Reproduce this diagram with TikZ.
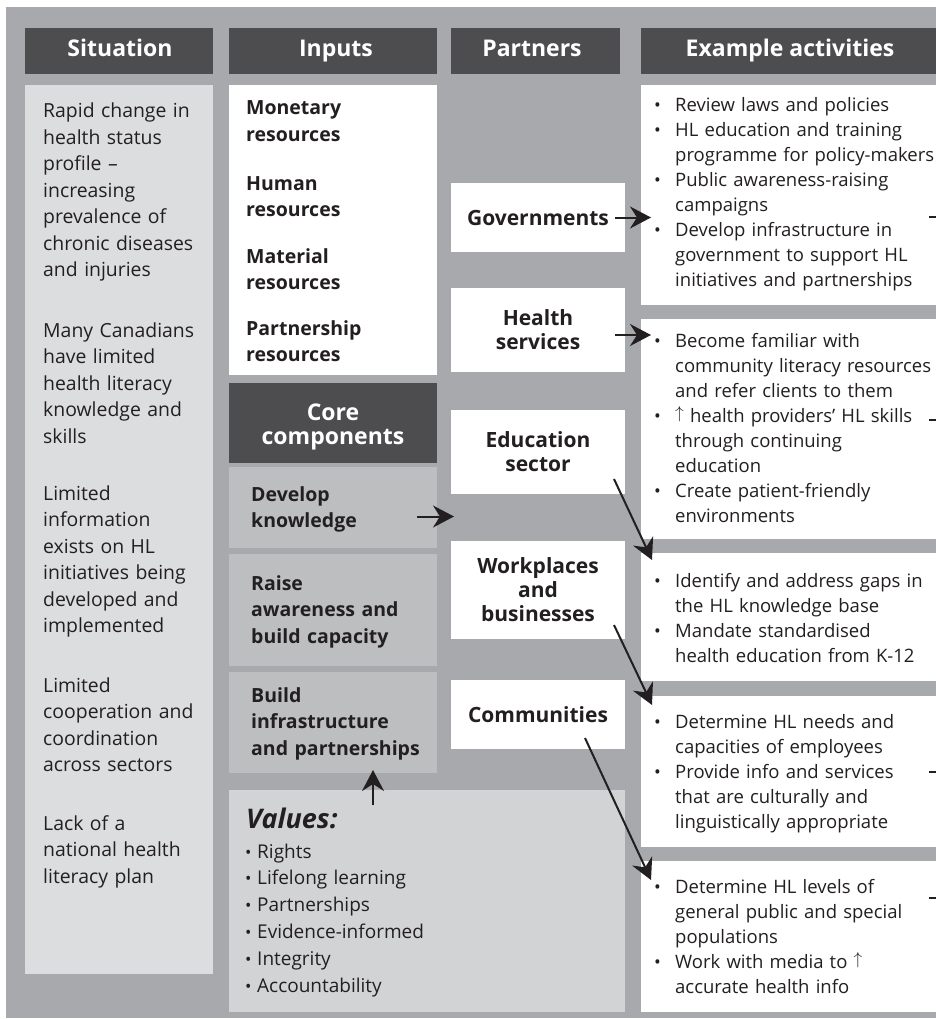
\documentclass[tikz,border=0pt]{standalone}
\usepackage{fontspec}
\setmainfont{Open Sans}
\usetikzlibrary{arrows.meta,calc}
\definecolor{bggray}{HTML}{A7A9AC}
\definecolor{darkhead}{HTML}{4D4D4F}
\definecolor{sitfill}{HTML}{DCDDDF}
\definecolor{corefill}{HTML}{BCBEC0}
\definecolor{valfill}{HTML}{D1D3D4}
\definecolor{ink}{HTML}{231F20}
\newcommand{\bul}{\makebox[20pt][l]{\hspace*{-1pt}\fontsize{18}{18}\selectfont •}}
\newcommand{\ind}{\hspace*{20pt}}
\newcommand{\vbul}{\makebox[12pt][l]{\fontsize{17}{17}\selectfont •}}
\newcommand{\upar}{\raisebox{0.2em}{$\uparrow$}}
\tikzset{
  box/.style={rectangle, inner sep=0pt, outer sep=0pt, draw=none},
  headbox/.style={box, fill=darkhead},
  whitebox/.style={box, fill=white},
  corebox/.style={box, fill=corefill},
  partbox/.style={box, fill=white, text=ink, align=center,
    font=\bfseries\fontsize{21}{24}\selectfont},
  headtxt/.style={inner sep=0pt, text=white, anchor=base,
    font=\bfseries\fontsize{23}{24}\selectfont},
  sittxt/.style={inner sep=0pt, text=ink, anchor=base west, align=left,
    text width=185pt, font=\fontsize{19.4}{26.5}\selectfont},
  inptxt/.style={inner sep=0pt, text=ink, anchor=base west, align=left,
    text width=185pt, font=\bfseries\fontsize{19.5}{26.5}\selectfont},
  acttxt/.style={inner sep=0pt, text=ink, anchor=base west, align=left,
    text width=300pt, font=\fontsize{18.5}{25}\selectfont},
  valtxt/.style={inner sep=0pt, text=ink, anchor=base west, align=left,
    text width=300pt, font=\fontsize{19}{26.8}\selectfont},
  arr/.style={draw=ink, line width=2pt, -{Stealth[length=21pt,width=22pt,inset=7pt]}},
  stub/.style={draw=ink, line width=2pt},
}
\begin{document}
\begin{tikzpicture}[x=1pt,y=-1pt]
\useasboundingbox (0,0) rectangle (936,1019);
\clip (0,0) rectangle (936,1019);
% background
\fill[bggray] (6,7) rectangle (940,1018);

% headers
\node[headbox, minimum width=188pt, minimum height=46pt] (sithead) at (119,51) {};
\node[headbox, minimum width=208pt, minimum height=46pt] (inphead) at (333,51) {};
\node[headbox, minimum width=169pt, minimum height=46pt] (parthead) at (535.5,51) {};
\node[headbox, minimum width=299pt, minimum height=46pt] (acthead) at (790.5,51) {};
\node[headtxt] (sitheadtxt) at (120,57) {Situation};
\node[headtxt] (inpheadtxt) at (336,57) {Inputs};
\node[headtxt] (partheadtxt) at (532,57) {Partners};
\node[headtxt] (actheadtxt) at (790,57) {Example activities};

% situation column
\node[box, fill=sitfill, minimum width=188pt, minimum height=889pt] (sitbody) at (119,529.5) {};
\node[sittxt] (sit1) at (43,118) {Rapid change in\\health status\\profile –\\increasing\\prevalence of\\chronic diseases\\and injuries};
\node[sittxt] (sit2) at (43,337) {Many Canadians\\have limited\\health literacy\\knowledge and\\skills};
\node[sittxt] (sit3) at (43,500) {Limited\\information\\exists on HL\\initiatives being\\developed and\\implemented};
\node[sittxt] (sit4) at (43,692) {Limited\\cooperation and\\coordination\\across sectors};
\node[sittxt] (sit5) at (43,830) {Lack of a\\national health\\literacy plan};

% inputs column
\node[whitebox, minimum width=208pt, minimum height=290pt] (inpbody) at (333,230) {};
\node[inptxt] (inp1) at (246,115) {Monetary\\resources};
\node[inptxt] (inp2) at (246,190) {Human\\resources};
\node[inptxt] (inp3) at (246,263) {Material\\resources};
\node[inptxt] (inp4) at (246,335) {Partnership\\resources};

% core components
\node[headbox, minimum width=208pt, minimum height=80pt] (corehead) at (333,423) {};
\node[headtxt, text width=208pt, align=center] (coreheadtxt) at (333,420) {Core\\components};
\node[corebox, minimum width=208pt, minimum height=81pt] (dev) at (333,507.5) {};
\node[corebox, minimum width=208pt, minimum height=112pt] (raise) at (333,610) {};
\node[corebox, minimum width=208pt, minimum height=101pt] (build) at (333,722.5) {};
\node[inptxt] (devtxt) at (251,501) {Develop\\knowledge};
\node[inptxt] (raisetxt) at (251,590) {Raise\\awareness and\\build capacity};
\node[inptxt] (buildtxt) at (251,702) {Build\\infrastructure\\and partnerships};

% values
\node[box, fill=valfill, minimum width=396pt, minimum height=222pt] (values) at (427,901) {};
\node[inner sep=0pt, text=ink, anchor=base west, font=\bfseries\itshape\fontsize{27}{30}\selectfont] (valtitle) at (246,828) {Values:};
\node[valtxt] (vallist) at (245,858) {\vbul Rights\\\vbul Lifelong learning\\\vbul Partnerships\\\vbul Evidence-informed\\\vbul Integrity\\\vbul Accountability};

% partners
\node[partbox, minimum width=174pt, minimum height=69pt] (gov) at (538,217.5) {Governments};
\node[partbox, minimum width=174pt, minimum height=84pt] (health) at (538,330) {Health\\services};
\node[partbox, minimum width=174pt, minimum height=84pt] (edu) at (538,452) {Education\\sector};
\node[partbox, minimum width=174pt, minimum height=98pt] (work) at (538,590) {Workplaces\\and\\businesses};
\node[partbox, minimum width=174pt, minimum height=69pt] (comm) at (538,714.5) {Communities};

% activities
\node[whitebox, minimum width=299pt, minimum height=220pt] (act1) at (790.5,195) {};
\node[whitebox, minimum width=299pt, minimum height=220pt] (act2) at (790.5,429) {};
\node[whitebox, minimum width=299pt, minimum height=128pt] (act3) at (790.5,617) {};
\node[whitebox, minimum width=299pt, minimum height=151pt] (act4) at (790.5,771.5) {};
\node[whitebox, minimum width=299pt, minimum height=151pt] (act5) at (790.5,936.5) {};

\node[acttxt] (act1txt) at (655,112) {\bul Review laws and policies\\\bul HL education and training\\\ind programme for policy-makers\\\bul Public awareness-raising\\\ind campaigns\\\bul Develop infrastructure in\\\ind government to support HL\\\ind initiatives and partnerships};
\node[acttxt] (act2txt) at (655,347) {\bul Become familiar with\\\ind community literacy resources\\\ind and refer clients to them\\\bul \upar{} health providers’ HL skills\\\ind through continuing\\\ind education\\\bul Create patient-friendly\\\ind environments};
\node[acttxt] (act3txt) at (655,587) {\bul Identify and address gaps in\\\ind the HL knowledge base\\\bul Mandate standardised\\\ind health education from K-12};
\node[acttxt] (act4txt) at (655,728) {\bul Determine HL needs and\\\ind capacities of employees\\\bul Provide info and services\\\ind that are culturally and\\\ind linguistically appropriate};
\node[acttxt] (act5txt) at (655,893) {\bul Determine HL levels of\\\ind general public and special\\\ind populations\\\bul Work with media to \upar\\\ind accurate health info};

% connectors
\draw[arr] ($(gov.east)+(-10,0)$) -- ($(act1.west |- gov.east)+(10,0)$);
\draw[arr] ($(health.east)+(-10,5)$) -- ($(act2.west |- health.east)+(10,5)$);
\coordinate (devend) at (454,516.5);
\draw[arr] ($(dev.east)+(-20,9)$) -- (devend);
\draw[arr] ($(edu.east)+(-11,27)$) -- ($(act3.north west)+(11,7)$);
\draw[arr] ($(work.east)+(-11,35)$) -- ($(act4.north west)+(11,9)$);
\draw[arr] ($(comm.south east)+(-40,-11)$) -- ($(act5.north west)+(10,19)$);
\draw[arr] ($(values.north west)+(144,15)$) -- ($(build.south west)+(144,-3)$);

% cut-off connectors at the right edge
\coordinate (s1a) at (929,217); \coordinate (s1b) at (937,217);
\coordinate (s2a) at (929,420); \coordinate (s2b) at (937,420);
\coordinate (s3a) at (929,772); \coordinate (s3b) at (937,772);
\coordinate (s4a) at (929,898); \coordinate (s4b) at (937,898);
\draw[stub] (s1a) -- (s1b);
\draw[stub] (s2a) -- (s2b);
\draw[stub] (s3a) -- (s3b);
\draw[stub] (s4a) -- (s4b);
\end{tikzpicture}
\end{document}
